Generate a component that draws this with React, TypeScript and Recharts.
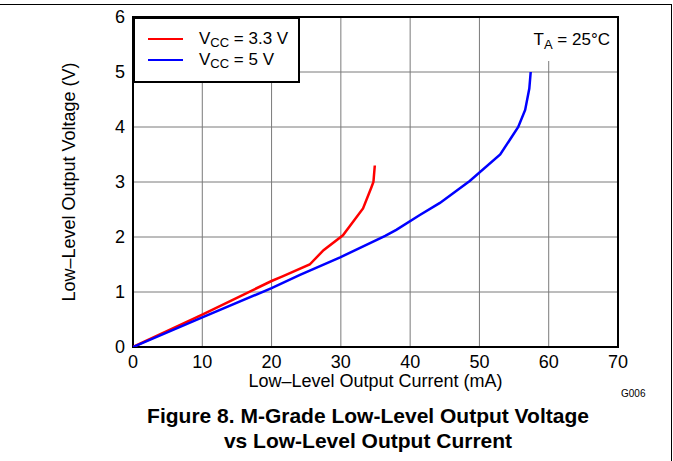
import React from 'react';
import { LineChart, Line, XAxis, YAxis, CartesianGrid, ReferenceArea, Legend, Label } from 'recharts';

const xTicks = [0, 10, 20, 30, 40, 50, 60, 70];
const yTicks = [0, 1, 2, 3, 4, 5, 6];
const vcc33Current = [0, 10, 20, 21.5, 25.5, 27.5, 30.3, 33.2, 34.4, 34.7, 34.9];
const vcc33Voltage = [0, 0.59, 1.2, 1.28, 1.5, 1.76, 2.03, 2.52, 2.9, 3.0, 3.3];
const vcc5Current = [0, 10, 20, 24.1, 29.9, 36.4, 38, 41.4, 44.3, 48.6, 53, 55.6, 56.6, 57.2, 57.4];
const vcc5Voltage = [0, 0.54, 1.07, 1.31, 1.63, 2.02, 2.13, 2.4, 2.62, 3.02, 3.5, 4.0, 4.31, 4.7, 5.0];

const vcc33 = vcc33Current.map((i, k) => ({ i, v: vcc33Voltage[k] }));
const vcc5 = vcc5Current.map((i, k) => ({ i, v: vcc5Voltage[k] }));

const FONT = '"Liberation Sans", Arial, sans-serif';

const LegendBox = () => (
  <div
    style={{
      width: 163,
      height: 62,
      border: '2px solid #000',
      background: '#fff',
      fontFamily: FONT,
      fontSize: 17,
      color: '#000',
      position: 'relative',
    }}
  >
    {[
      { color: '#ff0000', label: '3.3 V', top: 10 },
      { color: '#0000ff', label: '5 V', top: 31 },
    ].map((it) => (
      <div key={it.label} style={{ position: 'absolute', left: 13, top: it.top, display: 'flex', alignItems: 'center', height: 20 }}>
        <div style={{ width: 35, height: 2.5, background: it.color, marginRight: 16 }} />
        <span style={{ whiteSpace: 'nowrap' }}>
          V<sub style={{ fontSize: 13, verticalAlign: -3 }}>CC</sub> = {it.label}
        </span>
      </div>
    ))}
  </div>
);

export default function App() {
  return (
    <div style={{ position: 'absolute', left: 0, top: 0, width: 673, height: 461, background: '#fff', fontFamily: FONT }}>
      <div style={{ position: 'absolute', left: 0, top: 4, width: 672, height: 1, background: '#000' }} />
      <div style={{ position: 'absolute', left: 671, top: 4, width: 1, height: 457, background: '#000' }} />
      <LineChart
        width={673}
        height={461}
        margin={{ top: 17, left: 93, right: 55, bottom: 94 }}
        style={{ fontFamily: FONT }}
      >
        <CartesianGrid stroke="#7a7a7a" strokeWidth={1} />
        <XAxis
          dataKey="i"
          type="number"
          domain={[0, 70]}
          ticks={xTicks}
          allowDataOverflow
          tickLine={false}
          axisLine={false}
          height={20}
          tick={{ fill: '#000', fontSize: 18, fontFamily: FONT }}
        >
          <Label
            value="Low–Level Output Current (mA)"
            position="bottom"
            offset={7}
            style={{ fill: '#000', fontSize: 18, fontFamily: FONT }}
          />
        </XAxis>
        <YAxis
          dataKey="v"
          type="number"
          domain={[0, 6]}
          ticks={yTicks}
          allowDataOverflow
          tickLine={false}
          axisLine={false}
          width={40}
          tick={{ fill: '#000', fontSize: 18, fontFamily: FONT }}
        >
          <Label
            content={() => (
              <text
                x={75}
                y={182}
                transform="rotate(-90, 75, 182)"
                textAnchor="middle"
                fill="#000"
                fontSize={18}
                fontFamily={FONT}
              >
                Low–Level Output Voltage (V)
              </text>
            )}
          />
        </YAxis>
        <ReferenceArea x1={51.5} x2={70} y1={5.2} y2={6} fill="#fff" fillOpacity={1} stroke="none" ifOverflow="visible">
          <Label
            content={(props: any) => {
              const vb = props.viewBox || { x: 0, y: 0, width: 0 };
              return (
                <text x={vb.x + vb.width - 8} y={vb.y + 28} textAnchor="end" fill="#000" fontSize={17} fontFamily={FONT}>
                  T
                  <tspan dy={4} fontSize={13}>A</tspan>
                  <tspan dy={-4}> = 25°C</tspan>
                </text>
              );
            }}
          />
        </ReferenceArea>
        <Line data={vcc33} dataKey="v" name="VCC = 3.3 V" type="linear" stroke="#ff0000" strokeWidth={2.5} dot={false} isAnimationActive={false} />
        <Line data={vcc5} dataKey="v" name="VCC = 5 V" type="linear" stroke="#0000ff" strokeWidth={2.5} dot={false} isAnimationActive={false} />
        <ReferenceArea x1={0} x2={70} y1={0} y2={6} fill="none" stroke="#000" strokeWidth={2} ifOverflow="visible" />
        <Legend
          layout="vertical"
          align="center"
          verticalAlign="middle"
          content={() => <LegendBox />}
          wrapperStyle={{ left: 133, top: 17, width: 167, height: 66 }}
        />
      </LineChart>
      <div style={{ position: 'absolute', left: 621, top: 388, fontSize: 10, color: '#000' }}>G006</div>
      <div
        style={{
          position: 'absolute',
          left: 60,
          width: 616,
          top: 403,
          textAlign: 'center',
          fontWeight: 'bold',
          fontSize: 21,
          lineHeight: '25px',
          color: '#000',
        }}
      >
        Figure 8. M-Grade Low-Level Output Voltage
        <br />
        vs Low-Level Output Current
      </div>
    </div>
  );
}
